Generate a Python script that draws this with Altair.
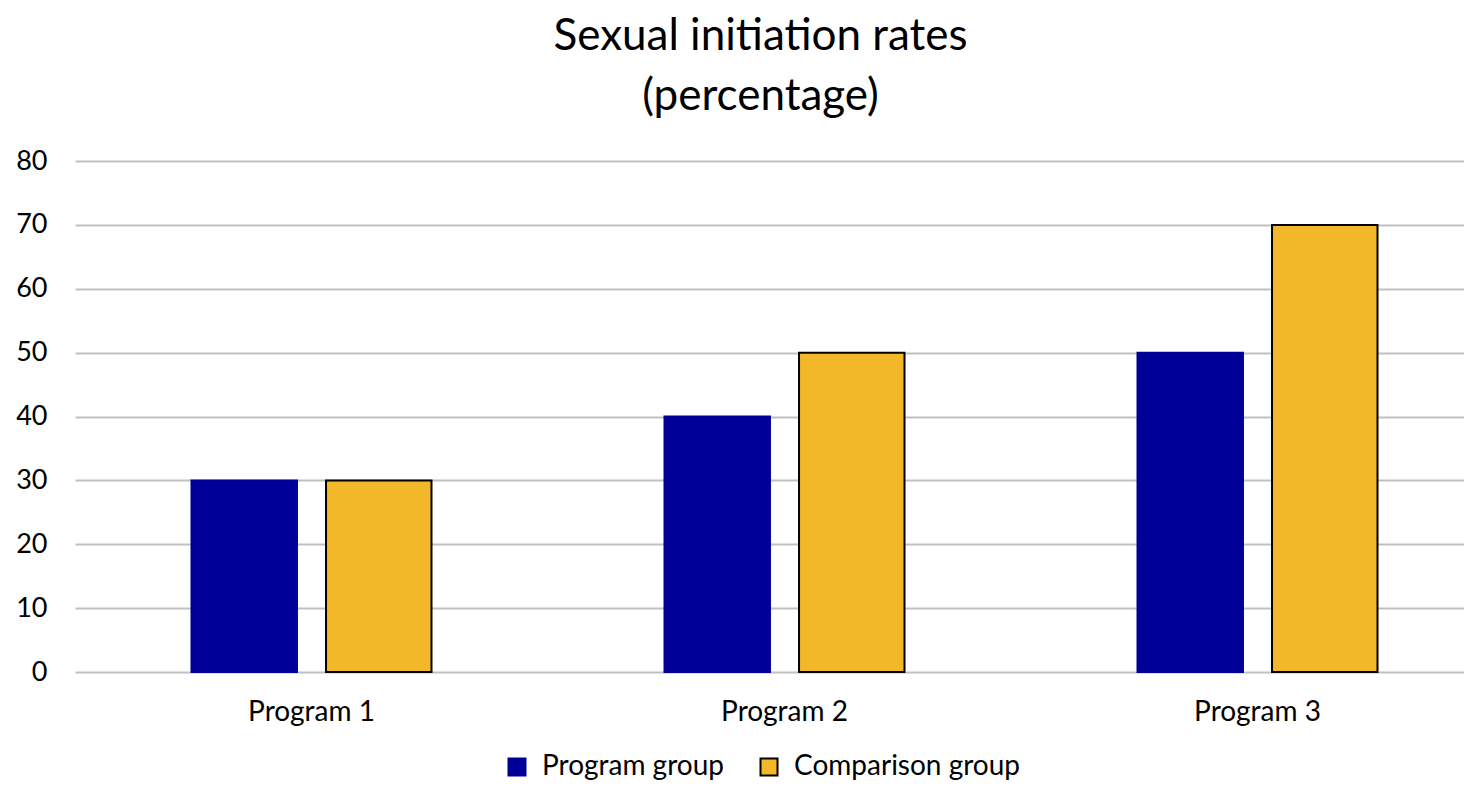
import altair as alt
import pandas as pd

programs = ["Program 1", "Program 2", "Program 3"]
groups = ["Program group", "Comparison group"]
program_group = [30, 40, 50]
comparison_group = [30, 50, 70]
y_ticks = [0, 10, 20, 30, 40, 50, 60, 70, 80]
colors = ["#000099", "#F2B829"]
strokes = ["#000099", "#000000"]

rows = []
for p, a, b in zip(programs, program_group, comparison_group):
    rows.append({"program": p, "group": groups[0], "value": a})
    rows.append({"program": p, "group": groups[1], "value": b})
df = pd.DataFrame(rows)

FONT = "Lato"

legend_cfg = dict(orient="none", legendX=428, legendY=592, direction="horizontal",
                  symbolType="square", symbolSize=289, labelFontSize=28, labelLimit=0,
                  labelFont=FONT, labelColor="#000000", columnPadding=31,
                  labelOffset=11, symbolStrokeWidth=2, symbolOpacity=1)

chart = alt.Chart(df).mark_bar(strokeWidth=2).encode(
    x=alt.X("program:N", sort=programs, title=None,
            scale=alt.Scale(paddingInner=0, paddingOuter=0, range=[0, 1419]),
            axis=alt.Axis(labelAngle=0, labelFontSize=28, labelFont=FONT, labelColor="#000000",
                          ticks=False, domain=False, labelPadding=26)),
    xOffset=alt.XOffset("group:N", sort=groups,
                        scale=alt.Scale(paddingInner=0.216, paddingOuter=0.866)),
    y=alt.Y("value:Q", title=None,
            scale=alt.Scale(domain=[0, 80]),
            axis=alt.Axis(values=y_ticks, labelFontSize=27, labelFont=FONT, labelColor="#000000",
                          ticks=False, domain=False, labelPadding=28,
                          gridColor="#c0c0c0", gridWidth=2)),
    fill=alt.Fill("group:N", sort=groups, title=None,
                  scale=alt.Scale(domain=groups, range=colors),
                  legend=alt.Legend(**legend_cfg)),
    stroke=alt.Stroke("group:N", sort=groups, title=None,
                      scale=alt.Scale(domain=groups, range=strokes),
                      legend=alt.Legend(**legend_cfg)),
).properties(
    width=1389,
    height=511,
    title=alt.Title(["Sexual initiation rates", "(percentage)"], fontSize=44, font=FONT,
                    fontWeight="normal", color="#000000", lineHeight=60, offset=28, anchor="middle", dx=-9),
    autosize=alt.AutoSizeParams(type="none"),
    padding={"left": 67, "top": 153, "right": 0, "bottom": 109},
).configure_view(stroke=None).configure_axis(gridOpacity=1)

chart.save("out.html", embed_options={"renderer": "svg", "actions": False})
